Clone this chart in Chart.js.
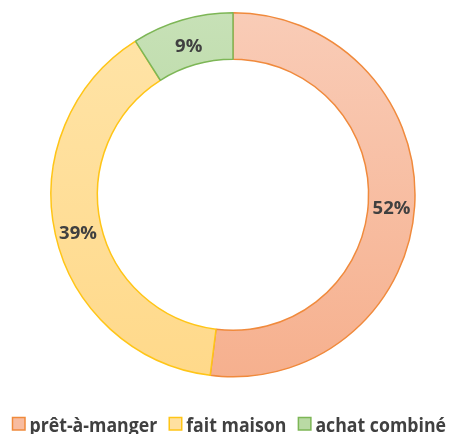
<!DOCTYPE html>
<html><head><meta charset="utf-8">
<script src="https://cdn.jsdelivr.net/npm/chart.js@4/dist/chart.umd.min.js"></script>
<style>html,body{margin:0;padding:0;background:#fff}#wrap{width:449px;height:434px}</style>
</head><body><div id="wrap"><canvas id="c" width="449" height="434"></canvas></div>
<script>
const categories = ["prêt-à-manger", "fait maison", "achat combiné"];
const values = [52, 39, 9];
const valueLabels = ["52%", "39%", "9%"];
const borderColors = ["#F08A3C", "#FFC517", "#7DB656"];
const topColors = ["#F9CCB7", "#FFE4A8", "#C7E1B7"];
const bottomColors = ["#F6B08E", "#FFD98A", "#A9D18E"];
const legendColors = ["#F8BCA0", "#FFE0A0", "#B9DAA4"];

function grad(ctx, area, i) {
  const g = ctx.createLinearGradient(0, area.top, 0, area.bottom);
  g.addColorStop(0, topColors[i]);
  g.addColorStop(1, bottomColors[i]);
  return g;
}

const labelPlugin = {
  id: 'valLabels',
  afterDatasetsDraw(chart) {
    const ctx = chart.ctx;
    const meta = chart.getDatasetMeta(0);
    ctx.save();
    ctx.font = "bold 18.5px 'Open Sans', sans-serif";
    ctx.fillStyle = "#404040";
    ctx.textAlign = "center";
    ctx.textBaseline = "middle";
    meta.data.forEach((arc, i) => {
      const p = arc.tooltipPosition();
      ctx.fillText(valueLabels[i], p.x, p.y + 4);
    });
    ctx.restore();
  }
};

const legendPlugin = {
  id: 'customLegend',
  afterDraw(chart) {
    const ctx = chart.ctx;
    ctx.save();
    ctx.font = "bold 20px 'Open Sans', sans-serif";
    ctx.textBaseline = "alphabetic";
    ctx.textAlign = "left";
    const left = 12.5, right = 446, box = 12.5, gapBox = 4.5, gapItem = 12;
    const boxTop = 417.5, baseline = 432;
    const widths = categories.map(t => ctx.measureText(t).width);
    const total = widths.reduce((a, b) => a + b, 0);
    const avail = right - left - categories.length * (box + gapBox) - (categories.length - 1) * gapItem;
    const k = Math.min(1, avail / total);
    let x = left;
    categories.forEach((t, i) => {
      ctx.fillStyle = legendColors[i];
      ctx.strokeStyle = borderColors[i];
      ctx.lineWidth = 1.5;
      ctx.fillRect(x, boxTop, box, box);
      ctx.strokeRect(x, boxTop, box, box);
      x += box + gapBox;
      const w = widths[i] * k;
      ctx.fillStyle = "#404040";
      ctx.fillText(t, x, baseline, w);
      x += w + gapItem;
    });
    ctx.restore();
  }
};

new Chart(document.getElementById('c'), {
  type: 'doughnut',
  data: {
    labels: categories,
    datasets: [{
      data: values,
      backgroundColor: (c) => {
        const area = c.chart.chartArea;
        if (!area) return topColors[c.dataIndex];
        return grad(c.chart.ctx, area, c.dataIndex);
      },
      borderColor: borderColors,
      borderWidth: 1.5
    }]
  },
  options: {
    responsive: false,
    animation: false,
    cutout: '74.5%',
    layout: { padding: { top: 12, left: 17, right: 0, bottom: 56.5 } },
    plugins: {
      tooltip: { enabled: false },
      legend: { display: false }
    }
  },
  plugins: [labelPlugin, legendPlugin]
});
</script></body></html>
